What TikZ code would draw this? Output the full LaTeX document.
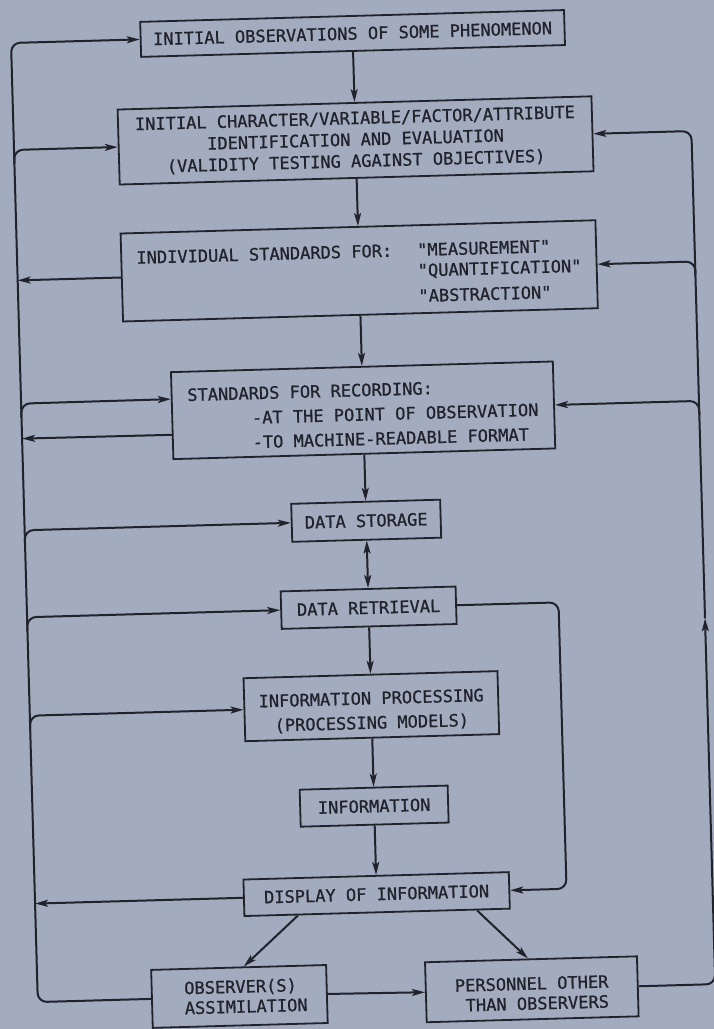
\documentclass[tikz,border=0pt]{standalone}
\usepackage{fontspec}
\newfontfamily\lettering[FakeBold=0.8]{DejaVu Sans Mono}
\usetikzlibrary{arrows.meta,calc}
\definecolor{bgc}{RGB}{163,171,190}
\definecolor{ink}{RGB}{32,34,44}
\begin{document}
\begin{tikzpicture}[x=1pt,y=-1pt,
  box/.style={draw=ink, line width=1.8pt, inner sep=0pt, align=center, text=ink,
    font=\lettering\fontsize{17}{18.5}\selectfont},
  conn/.style={draw=ink, line width=2pt, rounded corners=9pt},
  arr/.style={conn, -{Stealth[length=13pt,width=7pt,inset=3pt]}},
  darr/.style={conn, {Stealth[length=13pt,width=7pt,inset=3pt]}-{Stealth[length=13pt,width=7pt,inset=3pt]}}]
\fill[bgc] (0,0) rectangle (714,1029);
\useasboundingbox (0,0) rectangle (714,1029);
\begin{scope}[rotate around={1.6:(357,514)}, transform shape]
% boxes
\node[box, minimum width=424pt, minimum height=35pt] (b1) at (366,33.5) {INITIAL OBSERVATIONS OF SOME PHENOMENON};
\node[box, minimum width=474pt, minimum height=75pt] (b2) at (366,140.5)
  {INITIAL CHARACTER/VARIABLE/FACTOR/ATTRIBUTE\\[3pt]IDENTIFICATION AND EVALUATION\\[3pt](VALIDITY TESTING AGAINST OBJECTIVES)};
\node[box, minimum width=475pt, minimum height=88pt] (b3) at (366,271)
  {\begin{tabular}{@{}l@{\hspace{25pt}}l@{}}\rule{0pt}{25pt}INDIVIDUAL STANDARDS FOR: & "MEASUREMENT"\\[2pt] & "QUANTIFICATION"\\[7pt] & "ABSTRACTION"\end{tabular}};
\node[box, minimum width=382pt, minimum height=87pt, align=left] (b4) at (366,410.5)
  {\rule{0pt}{21pt}STANDARDS FOR RECORDING:\\[6pt]\hspace*{64pt}-AT THE POINT OF OBSERVATION\\[6pt]\hspace*{64pt}-TO MACHINE-READABLE FORMAT};
\node[box, minimum width=149pt, minimum height=38pt] (b5) at (366,521) {DATA STORAGE};
\node[box, minimum width=175pt, minimum height=37.5pt] (b6) at (366,608) {DATA RETRIEVAL};
\node[box, minimum width=254pt, minimum height=63pt] (b7) at (366,706.5) {\rule{0pt}{23pt}INFORMATION PROCESSING\\[6pt](PROCESSING MODELS)};
\node[box, minimum width=148pt, minimum height=37pt] (b8) at (366,806.5) {INFORMATION};
\node[box, minimum width=265.5pt, minimum height=36.5pt] (b9) at (366,894.5) {DISPLAY OF INFORMATION};
\node[box, minimum width=175pt, minimum height=58pt, align=left] (b10) at (226,993)
  {\hspace*{13pt}OBSERVER(S)\\[1.5pt]\hspace*{13pt}ASSIMILATION};
\node[box, minimum width=212pt, minimum height=60pt, align=right] (b11) at (518.5,994)
  {\rule{0pt}{21pt}PERSONNEL OTHER\\[1.5pt]THAN OBSERVERS};
% trunk coordinates
\coordinate (Lb) at (24.3,993);
\coordinate (Lt) at (24.3,33.5);
\coordinate (L2a) at (24.3,154.5);  \coordinate (L2) at (24.3,140.5);
\coordinate (L3) at (24.3,271);
\coordinate (L4a) at (24.3,408.3);  \coordinate (L4) at (24.3,394.3);
\coordinate (L4o) at (24.3,429.3);
\coordinate (L5a) at (24.3,535);    \coordinate (L5) at (24.3,521);
\coordinate (L6a) at (24.3,622);    \coordinate (L6) at (24.3,608);
\coordinate (L7a) at (24.3,720.5);  \coordinate (L7) at (24.3,706.5);
\coordinate (L9) at (24.3,894.5);
\coordinate (Rb) at (702,994);
\coordinate (Rm) at (702,628);
\coordinate (Rt) at (702,140.5);
\coordinate (R3a) at (702,285);     \coordinate (R3) at (702,271);
\coordinate (R4a) at (702,424.5);   \coordinate (R4) at (702,410.5);
\coordinate (D1) at (556,608);
\coordinate (D2) at (556,894.5);
% centre column
\draw[arr] (b1.south) -- (b2.north);
\draw[arr] (b2.south) -- (b3.north);
\draw[arr] (b3.south) -- (b4.north);
\draw[arr] (b4.south) -- (b5.north);
\draw[darr] (b5.south) -- (b6.north);
\draw[arr] (b6.south) -- (b7.north);
\draw[arr] (b7.south) -- (b8.north);
\draw[arr] (b8.south) -- (b9.north);
\draw[arr] ($(b9.south west)!0.204!(b9.south east)$) -- ($(b10.north west)!0.53!(b10.north east)$);
\draw[arr] ($(b9.south west)!0.874!(b9.south east)$) -- ($(b11.north west)!0.486!(b11.north east)$);
\draw[arr] (b10.east) -- (b11.west);
% left trunk
\draw[arr] (b10.west) -- (Lb) -- (Lt) -- (b1.west);
\draw[arr] (L2a) -- (L2) -- (b2.west);
\draw[arr] (b3.west) -- (L3);
\draw[arr] (L4a) -- (L4) -- ($(b4.north west)!0.314!(b4.south west)$);
\draw[arr] ($(b4.north west)!0.716!(b4.south west)$) -- (L4o);
\draw[arr] (L5a) -- (L5) -- (b5.west);
\draw[arr] (L6a) -- (L6) -- (b6.west);
\draw[arr] (L7a) -- (L7) -- (b7.west);
\draw[arr] (b9.west) -- (L9);
% right trunk
\draw[arr] (b11.east) -- (Rb) -- (Rm);
\draw[arr] (Rm) -- (Rt) -- (b2.east);
\draw[arr] (R3a) -- (R3) -- (b3.east);
\draw[arr] (R4a) -- (R4) -- (b4.east);
% data retrieval to display
\draw[arr] (b6.east) -- (D1) -- (D2) -- (b9.east);
\end{scope}
\end{tikzpicture}
\end{document}
